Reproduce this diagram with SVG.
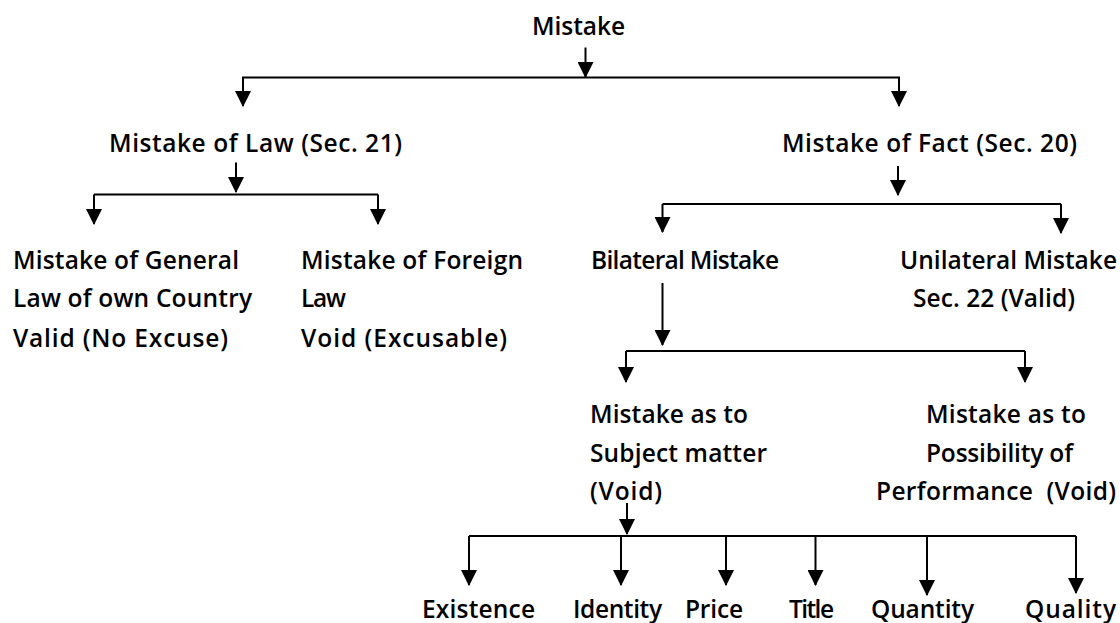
<svg xmlns="http://www.w3.org/2000/svg" width="1120" height="623" viewBox="0 0 1120 623">
  <style>
    text { font-family: "Open Sans", "Liberation Sans", Arial, sans-serif; font-size: 24.5px; font-weight: 600; fill: #000; }
    .wire { fill: none; stroke: #000; stroke-width: 2; }
    .arrow { fill: none; stroke: #000; stroke-width: 2; marker-end: url(#head); }
  </style>
  <defs>
    <marker id="head" markerUnits="userSpaceOnUse" markerWidth="16" markerHeight="16" viewBox="0 0 15 15" refX="14" refY="7.5" orient="auto">
      <path d="M0,0 L15,7.5 L0,15 z" fill="#000"/>
    </marker>
  </defs>

  <rect width="1120" height="623" fill="#fff"/>

  <!-- connectors -->
  <g id="connectors">
    <!-- Mistake -> Law / Fact -->
    <path class="arrow" d="M585.5,47.5 V77"/>
    <path class="wire" d="M243,106 V77.5 H899 V106"/>
    <path class="arrow" d="M243,77.5 V106"/>
    <path class="arrow" d="M899,77.5 V106"/>

    <!-- Law -> General / Foreign -->
    <path class="arrow" d="M236,162.5 V192"/>
    <path class="wire" d="M94,194.5 H378"/>
    <path class="arrow" d="M94,194.5 V224"/>
    <path class="arrow" d="M378,194.5 V224"/>

    <!-- Fact -> Bilateral / Unilateral -->
    <path class="arrow" d="M898,166 V195"/>
    <path class="wire" d="M662.5,204 H1061"/>
    <path class="arrow" d="M662.5,204 V232"/>
    <path class="arrow" d="M1061,204 V233"/>

    <!-- Bilateral -> Subject matter / Possibility -->
    <path class="arrow" d="M662.5,283 V345"/>
    <path class="wire" d="M626,351 H1025"/>
    <path class="arrow" d="M626,351 V382"/>
    <path class="arrow" d="M1025,351 V382"/>

    <!-- Subject matter -> kinds -->
    <path class="arrow" d="M627,503 V534"/>
    <path class="wire" d="M469,536 H1076"/>
    <path class="arrow" d="M469,536 V585"/>
    <path class="arrow" d="M621,536 V585"/>
    <path class="arrow" d="M726,536 V585"/>
    <path class="arrow" d="M815.5,536 V585"/>
    <path class="arrow" d="M927,536 V595"/>
    <path class="arrow" d="M1076,536 V593"/>
  </g>

  <!-- nodes -->
  <g id="mistake"><text x="532" y="35" textLength="93">Mistake</text></g>
  <g id="mistake-law"><text x="109" y="152" textLength="293">Mistake of Law (Sec. 21)</text></g>
  <g id="mistake-fact"><text x="782" y="152" textLength="295">Mistake of Fact (Sec. 20)</text></g>

  <g id="general-law">
    <text x="13" y="268.5" textLength="226">Mistake of General</text>
    <text x="13" y="307" textLength="239">Law of own Country</text>
    <text x="13" y="346.5" textLength="215">Valid (No Excuse)</text>
  </g>
  <g id="foreign-law">
    <text x="301" y="268.5" textLength="222">Mistake of Foreign</text>
    <text x="301" y="307" textLength="45">Law</text>
    <text x="301" y="346.5" textLength="206">Void (Excusable)</text>
  </g>

  <g id="bilateral"><text x="591" y="268.5" textLength="188">Bilateral Mistake</text></g>
  <g id="unilateral">
    <text x="900" y="268.5" textLength="217">Unilateral Mistake</text>
    <text x="913" y="307" textLength="162">Sec. 22 (Valid)</text>
  </g>

  <g id="subject-matter">
    <text x="590" y="423" textLength="158">Mistake as to</text>
    <text x="590" y="461.5" textLength="177">Subject matter</text>
    <text x="590" y="500" textLength="72">(Void)</text>
  </g>
  <g id="possibility">
    <text x="926" y="423" textLength="160">Mistake as to</text>
    <text x="926" y="461.5" textLength="147">Possibility of</text>
    <text x="876" y="500" textLength="240" xml:space="preserve">Performance  (Void)</text>
  </g>

  <g id="existence"><text x="422" y="618" textLength="113">Existence</text></g>
  <g id="identity"><text x="573" y="618" textLength="89">Identity</text></g>
  <g id="price"><text x="685" y="618" textLength="58">Price</text></g>
  <g id="title"><text x="789" y="618" textLength="45">Title</text></g>
  <g id="quantity"><text x="871" y="618" textLength="103">Quantity</text></g>
  <g id="quality"><text x="1025" y="618" textLength="91">Quality</text></g>
</svg>
